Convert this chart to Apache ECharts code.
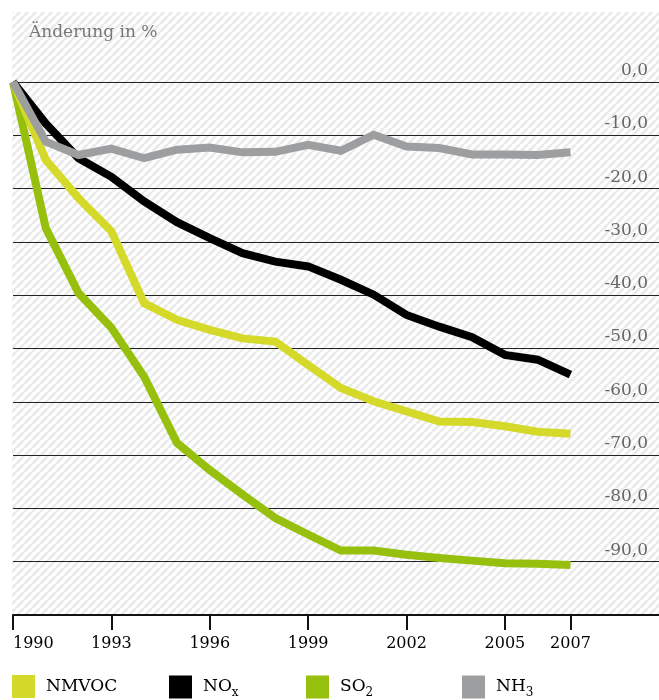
<!DOCTYPE html>
<html>
<head>
<meta charset="utf-8">
<script src="https://cdn.jsdelivr.net/npm/echarts@6/dist/echarts.min.js"></script>
<style>html,body{margin:0;padding:0;background:#fff}#c{width:659px;height:700px}</style>
</head>
<body>
<div id="c"></div>
<script>
const years = [1990,1991,1992,1993,1994,1995,1996,1997,1998,1999,2000,2001,2002,2003,2004,2005,2006,2007];
const tickYears = [1990,1993,1996,1999,2002,2005,2007];
const nmvoc = [0,-14.6,-21.8,-28.0,-41.5,-44.6,-46.5,-48.1,-48.7,-53.1,-57.4,-59.9,-61.8,-63.7,-63.8,-64.6,-65.6,-66.0];
const nox   = [0,-7.8,-14.3,-17.8,-22.4,-26.3,-29.3,-32.1,-33.7,-34.6,-37.1,-39.9,-43.7,-45.9,-47.9,-51.2,-52.1,-54.9];
const so2   = [0,-27.4,-39.6,-46.1,-55.3,-67.7,-72.8,-77.4,-81.8,-84.9,-87.9,-87.9,-88.7,-89.3,-89.8,-90.3,-90.4,-90.6];
const nh3   = [0,-11.2,-13.7,-12.5,-14.3,-12.7,-12.3,-13.2,-13.1,-11.8,-12.9,-9.9,-12.1,-12.4,-13.6,-13.6,-13.7,-13.2];

const FONT = 'DejaVu Serif';
const tile = document.createElement('canvas');
tile.width = 8; tile.height = 8;
const tc = tile.getContext('2d');
tc.fillStyle = '#ffffff'; tc.fillRect(0,0,8,8);
tc.strokeStyle = '#ebebeb'; tc.lineWidth = 3;
for (let k = -1; k <= 1; k++) { tc.beginPath(); tc.moveTo(k*8, 8); tc.lineTo(k*8+8, 0); tc.stroke(); }

const pairs = arr => years.map((y,i) => [y, arr[i]]);
const chart = echarts.init(document.getElementById('c'));
const legendBase = (name, left) => ({
  data: [name], left: left, top: 675, padding: 0, itemWidth: 23, itemHeight: 23, icon: 'rect',
  itemStyle: {borderWidth: 0},
  formatter: function (n) {
    if (n === 'NOx') return '{m|NO}{s|x}';
    if (n === 'SO2') return '{m|SO}{s|2}';
    if (n === 'NH3') return '{m|NH}{s|3}';
    return '{m|' + n + '}';
  },
  textStyle: {
    padding: [0,0,0,6],
    rich: {
      m: {fontFamily: FONT, fontSize: 17, color: '#000', lineHeight: 20},
      s: {fontFamily: FONT, fontSize: 12, color: '#000', lineHeight: 12, padding: [12,0,0,0]}
    }
  }
});
const lineSeries = (name, arr, color) => ({
  name: name, type: 'line', data: pairs(arr), showSymbol: false, symbol: 'none',
  lineStyle: {color: color, width: 8, join: 'miter', cap: 'butt'},
  itemStyle: {color: color}, emphasis: {disabled: true}, animation: false
});
chart.setOption({
  animation: false,
  graphic: [{
    type: 'rect', z: -10, silent: true,
    shape: {x: 12, y: 12, width: 647, height: 603},
    style: {fill: {image: tile, repeat: 'repeat'}}
  }],
  title: {
    text: 'Änderung in %', left: 29, top: 24, padding: 0,
    textStyle: {fontFamily: FONT, fontSize: 17, fontWeight: 'normal', color: '#777'}
  },
  legend: [legendBase('NMVOC', 12), legendBase('NOx', 169), legendBase('SO2', 306), legendBase('NH3', 462)],
  grid: {left: 13, right: 0, top: 82, bottom: 85, containLabel: false, outerBoundsMode: 'none'},
  xAxis: {
    type: 'value', min: 1990, max: 2009.7,
    axisLine: {show: true, onZero: false, lineStyle: {color: '#111', width: 2}},
    axisTick: {show: true, inside: false, length: 15, customValues: tickYears, lineStyle: {color: '#111', width: 2}},
    axisLabel: {customValues: tickYears, formatter: v => String(v), margin: 21, alignMinLabel: 'left',
      fontFamily: FONT, fontSize: 16, color: '#000'},
    splitLine: {show: false}
  },
  yAxis: {
    type: 'value', position: 'right', min: -100, max: 0, interval: 10,
    axisLine: {show: false}, axisTick: {show: false},
    axisLabel: {inside: true, margin: 11, verticalAlign: 'bottom', padding: [0,0,3,0],
      fontFamily: FONT, fontSize: 17, color: '#666',
      formatter: v => v <= -100 ? '' : v.toFixed(1).replace('.', ',')},
    splitLine: {show: true, lineStyle: {color: '#222', width: 1}}
  },
  series: [
    lineSeries('SO2', so2, '#97bf0d'),
    lineSeries('NMVOC', nmvoc, '#d4d92a'),
    lineSeries('NOx', nox, '#000000'),
    lineSeries('NH3', nh3, '#9d9ea0')
  ]
});
</script>
</body>
</html>
